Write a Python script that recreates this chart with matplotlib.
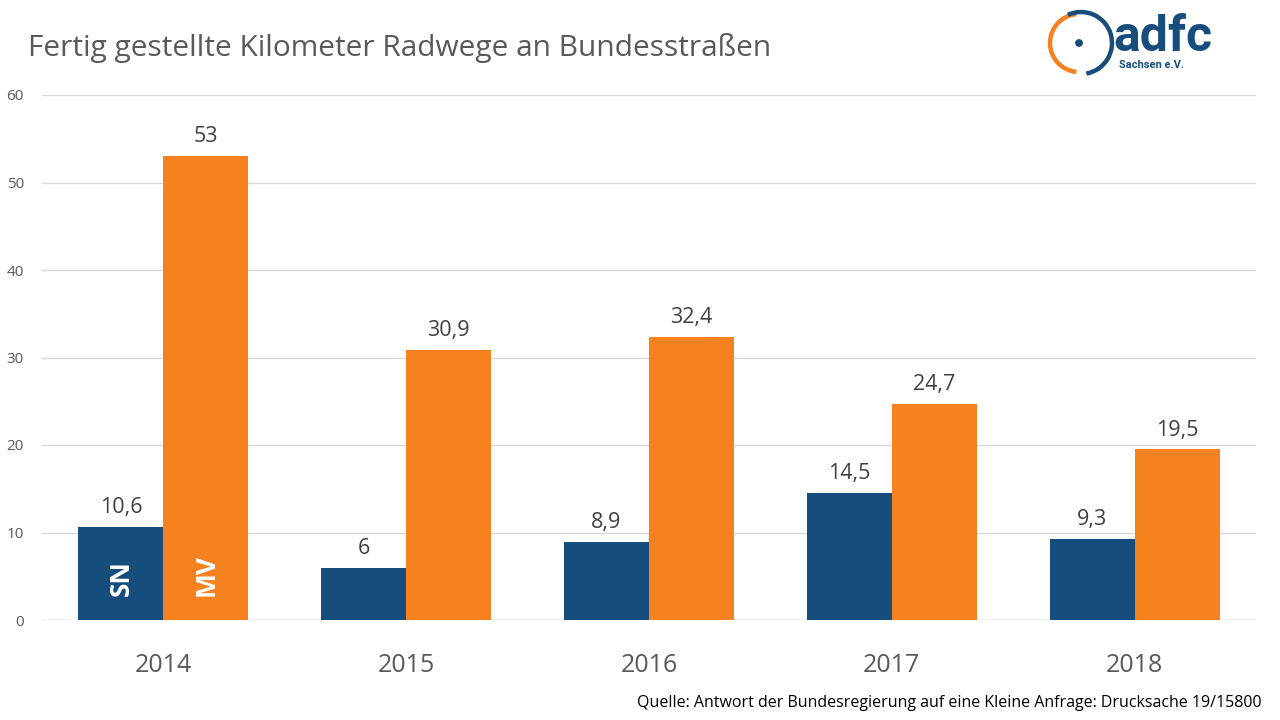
import matplotlib.pyplot as plt
import numpy as np
from matplotlib.patches import Arc, Circle

plt.rcParams['font.family'] = ['Open Sans', 'DejaVu Sans']

years = ['2014', '2015', '2016', '2017', '2018']
sn = [10.6, 6, 8.9, 14.5, 9.3]
mv = [53, 30.9, 32.4, 24.7, 19.5]

blue = '#174D7C'
orange = '#F5821F'
grey = '#595959'

fig = plt.figure(figsize=(12.8, 7.2), dpi=100)
ax = fig.add_axes([42 / 1280, 100 / 720, 1214 / 1280, 525 / 720])

x = np.arange(len(years))
w = 0.35
b1 = ax.bar(x - w / 2, sn, w, color=blue, zorder=3)
b2 = ax.bar(x + w / 2, mv, w, color=orange, zorder=3)

def fmt(v):
    return ('%g' % v).replace('.', ',')

for bars, vals in ((b1, sn), (b2, mv)):
    for r, v in zip(bars, vals):
        ax.text(r.get_x() + r.get_width() / 2, v + 1.0, fmt(v), ha='center', va='bottom',
                fontsize=15.5, color='#404040')

ax.text(x[0] - w / 2, 2.7, 'SN', rotation=90, ha='center', va='bottom', color='white',
        fontsize=19, fontweight='bold')
ax.text(x[0] + w / 2, 2.7, 'MV', rotation=90, ha='center', va='bottom', color='white',
        fontsize=19, fontweight='bold')

ax.set_xlim(-0.5, len(years) - 0.5)
ax.set_ylim(0, 60)
ax.set_yticks(range(0, 61, 10))
ax.set_xticks(x)
ax.set_xticklabels(years, fontsize=18, color=grey)
ax.tick_params(axis='x', length=0, pad=24)
ax.tick_params(axis='y', length=0, labelsize=11, labelcolor=grey, pad=13)
ax.yaxis.grid(True, color='#D9D9D9', lw=1, zorder=0)
for s in ax.spines.values():
    s.set_visible(False)
ax.axhline(0, color='#D9D9D9', lw=1, zorder=1)

fig.text(28 / 1280, 1 - 48 / 720, 'Fertig gestellte Kilometer Radwege an Bundesstraßen',
         fontsize=21.5, color=grey, va='center', ha='left')
fig.text(1262 / 1280, 1 - 703 / 720, 'Quelle: Antwort der Bundesregierung auf eine Kleine Anfrage: Drucksache 19/15800',
         fontsize=11.5, color='black', ha='right', va='center')

# logo
lax = fig.add_axes([1040 / 1280, 1 - 80 / 720, 200 / 1280, 78 / 720])
lax.set_xlim(1040, 1240)
lax.set_ylim(80, 2)
lax.axis('off')
lax.add_patch(Arc((1079, 43), 58, 58, theta1=95, theta2=265, color=orange, lw=3.2))
lax.add_patch(Arc((1081, 43), 62, 62, theta1=-115, theta2=80, color=blue, lw=3.2))
lax.add_patch(Circle((1079, 43), 3.2, color=blue))
lax.text(1113, 51, 'adfc', fontsize=36, fontweight='bold', color=blue, va='baseline', ha='left',
         family=['Roboto', 'DejaVu Sans'])
lax.text(1119, 65, 'Sachsen e.V.', fontsize=8, fontweight='bold', color=blue, va='center', ha='left',
         family=['Roboto', 'DejaVu Sans'])

fig.savefig('out.png', dpi=100)
